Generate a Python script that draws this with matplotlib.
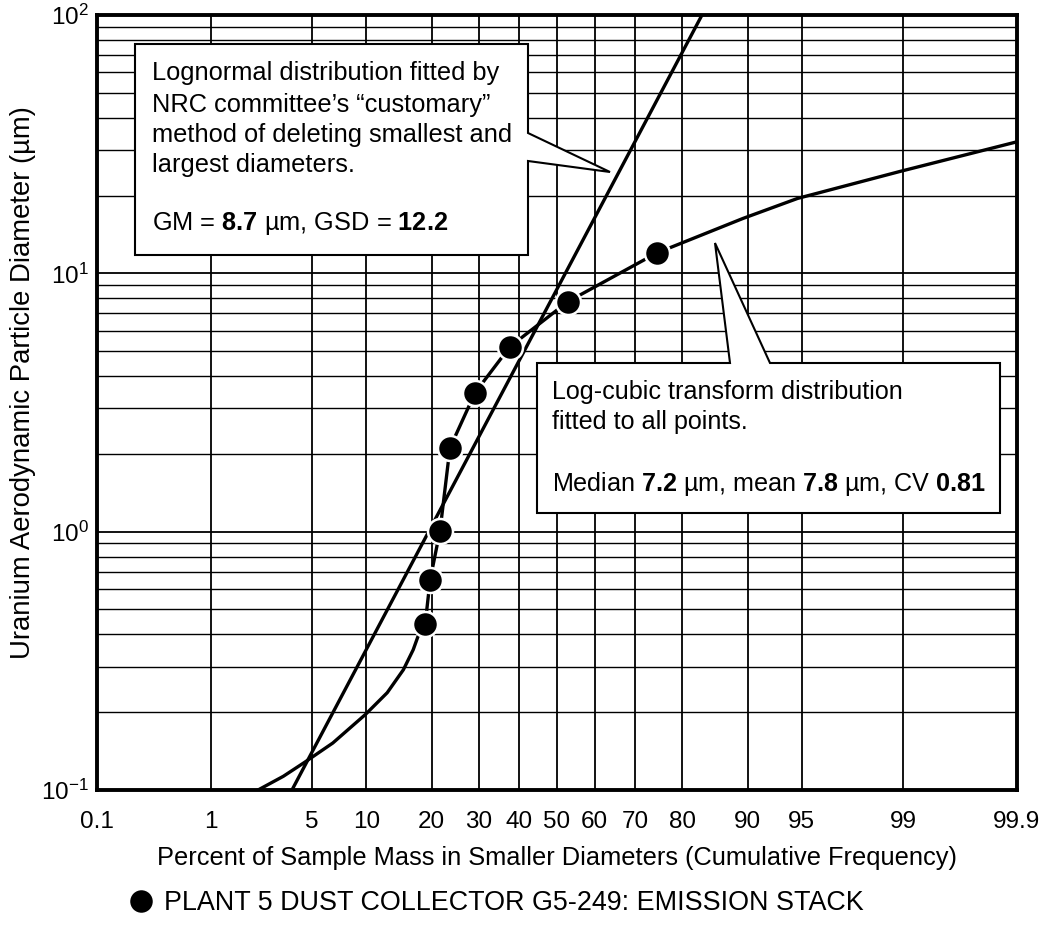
import numpy as np
import matplotlib
matplotlib.use('Agg')
import matplotlib.pyplot as plt
from matplotlib.patches import Polygon
from matplotlib.ticker import LogLocator, NullLocator, NullFormatter
from statistics import NormalDist

plt.rcParams['font.family'] = ['Liberation Sans', 'DejaVu Sans']
plt.rcParams['mathtext.fontset'] = 'custom'
plt.rcParams['mathtext.rm'] = 'Liberation Sans'
plt.rcParams['mathtext.bf'] = 'Liberation Sans:bold'
plt.rcParams['mathtext.it'] = 'Liberation Sans:italic'

# measured points (percent smaller, diameter um)
sample_pct = [18.8, 19.7, 21.6, 23.6, 29.1, 37.6, 52.9, 74.9]
sample_um = [0.44, 0.65, 1.01, 2.11, 3.45, 5.2, 7.77, 12.0]

# log-cubic fitted curve
logcubic_pct = [2.23, 3.3, 4.5, 6.6, 9.9, 12.7, 15.1, 16.7, 17.5, 18.8, 19.7, 21.6,
                23.6, 29.1, 37.6, 52.9, 74.9, 78.2, 89.4, 94.7, 98.94, 99.9]
logcubic_um = [0.1, 0.113, 0.128, 0.152, 0.196, 0.238, 0.292, 0.349, 0.392, 0.44, 0.65, 1.01,
               2.11, 3.45, 5.2, 7.77, 12.0, 12.7, 16.3, 19.5, 24.8, 32.3]

# lognormal fit (straight line on this paper), end points
lognormal_pct = [3.75, 83.5]
lognormal_um = [0.1, 100]

pct_ticks = [0.1, 1, 5, 10, 20, 30, 40, 50, 60, 70, 80, 90, 95, 99, 99.9]
pct_labels = ['0.1', '1', '5', '10', '20', '30', '40', '50', '60', '70', '80', '90', '95', '99', '99.9']

box1_lines = ['Lognormal distribution fitted by',
              'NRC committee\u2019s \u201ccustomary\u201d',
              'method of deleting smallest and',
              'largest diameters.']
box1_stats = r'GM = $\mathbf{8.7}$ µm, GSD = $\mathbf{12.2}$'
box2_lines = ['Log-cubic transform distribution',
              'fitted to all points.']
box2_stats = r'Median $\mathbf{7.2}$ µm, mean $\mathbf{7.8}$ µm, CV $\mathbf{0.81}$'
legend_label = 'PLANT 5 DUST COLLECTOR G5-249: EMISSION STACK'


W, H = 1042, 935
L, R, T, B = 97, 1017, 15, 790
fig = plt.figure(figsize=(W / 100, H / 100), dpi=100)
ax = fig.add_axes([L / W, 1 - B / H, (R - L) / W, (B - T) / H])


def to_ax(px, py):
    return ((px - L) / (R - L), (B - py) / (B - T))


nd = NormalDist()


def probit(p):
    p = np.clip(np.asarray(p, dtype=float) / 100, 1e-9, 1 - 1e-9)
    return np.vectorize(nd.inv_cdf, otypes=[float])(p)


def inv_probit(z):
    return np.vectorize(nd.cdf, otypes=[float])(np.asarray(z, dtype=float)) * 100


ax.set_xscale('function', functions=(probit, inv_probit))
ax.set_yscale('log')

ax.plot(lognormal_pct, lognormal_um, color='k', lw=2.4, zorder=3)
ax.plot(logcubic_pct, logcubic_um, color='k', lw=2.4, zorder=3, solid_joinstyle='round')
pts, = ax.plot(sample_pct, sample_um, 'o', ms=18, mfc='k', mec='white', mew=1.8,
               zorder=4, label=legend_label)

ax.set_xlim(0.1, 99.9)
ax.set_ylim(0.1, 100)
ax.set_xticks(pct_ticks, pct_labels)
ax.xaxis.set_minor_locator(NullLocator())
ax.yaxis.set_major_locator(LogLocator(base=10, numticks=10))
ax.yaxis.set_minor_locator(LogLocator(base=10, subs=np.arange(2, 10), numticks=20))
ax.yaxis.set_minor_formatter(NullFormatter())

ax.set_axisbelow(True)
ax.grid(True, which='major', color='k', lw=1.3)
ax.grid(True, which='minor', axis='y', color='k', lw=1.0)
ax.tick_params(which='both', length=0, labelsize=17.5)
ax.tick_params(axis='x', pad=15)
ax.tick_params(axis='y', pad=6)
for s in ax.spines.values():
    s.set_linewidth(2.8)

ax.set_xlabel('Percent of Sample Mass in Smaller Diameters (Cumulative Frequency)', fontsize=18.3)
ax.xaxis.set_label_coords(0.5, to_ax(0, 846)[1])
ax.set_ylabel('Uranium Aerodynamic Particle Diameter (µm)', fontsize=19.8)
ax.yaxis.set_label_coords(to_ax(36, 0)[0], to_ax(0, 383)[1])

# callout boxes with pointers
box1_px = [(135, 44), (528, 44), (528, 133), (610, 172), (528, 161), (528, 255), (135, 255)]
box2_px = [(537, 363), (730, 363), (715, 243), (770, 363), (1000, 363), (1000, 513), (537, 513)]
for poly in (box1_px, box2_px):
    ax.add_patch(Polygon([to_ax(*p) for p in poly], closed=True, transform=ax.transAxes,
                         fc='white', ec='k', lw=1.5, zorder=5, joinstyle='miter', clip_on=False))

for line, y in zip(box1_lines + [box1_stats], [80, 112, 142, 172, 230]):
    ax.text(*to_ax(152, y), line, transform=ax.transAxes, fontsize=18.3, va='baseline', zorder=6)
for line, y in zip(box2_lines + [box2_stats], [399, 429, 491]):
    ax.text(*to_ax(552, y), line, transform=ax.transAxes, fontsize=18.1, va='baseline', zorder=6)

fig.legend(handles=[pts], loc='center left', bbox_to_anchor=(128 / W, 1 - 903 / H),
           frameon=False, fontsize=19.4, handlelength=0.95, handletextpad=0.4,
           borderpad=0, borderaxespad=0)

fig.savefig('out.png', dpi=100)
